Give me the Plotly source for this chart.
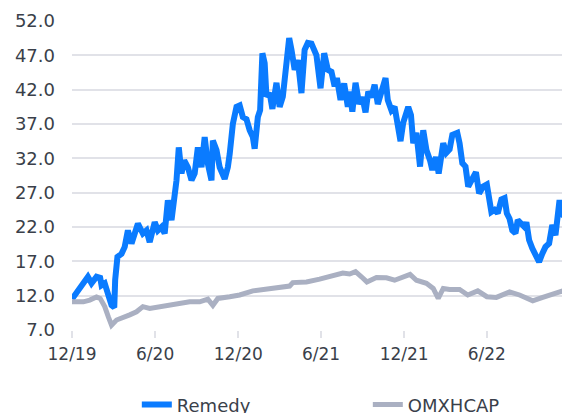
import plotly.graph_objects as go

remedy_dates = [
    "2019-12-01", "2019-12-15", "2019-12-26", "2020-01-05", "2020-01-13", "2020-01-24",
    "2020-02-01", "2020-02-04", "2020-02-11", "2020-02-19", "2020-02-26", "2020-03-03",
    "2020-03-05", "2020-03-10", "2020-03-19", "2020-03-26", "2020-04-02", "2020-04-10",
    "2020-04-17", "2020-04-24", "2020-05-05", "2020-05-13", "2020-05-20", "2020-05-31",
    "2020-06-07", "2020-06-15", "2020-06-22", "2020-06-29", "2020-07-07", "2020-07-14",
    "2020-07-18", "2020-07-23", "2020-07-29", "2020-08-04", "2020-08-12", "2020-08-20",
    "2020-08-27", "2020-09-03", "2020-09-11", "2020-09-18", "2020-09-25", "2020-10-03",
    "2020-10-06", "2020-10-14", "2020-10-21", "2020-11-01", "2020-11-08", "2020-11-12",
    "2020-11-19", "2020-11-27", "2020-12-04", "2020-12-11", "2020-12-19", "2020-12-26",
    "2021-01-02", "2021-01-06", "2021-01-13", "2021-01-18", "2021-01-23", "2021-01-28",
    "2021-02-01", "2021-02-08", "2021-02-14", "2021-02-23", "2021-03-02", "2021-03-09",
    "2021-03-17", "2021-03-23", "2021-03-28", "2021-04-04", "2021-04-11", "2021-04-19",
    "2021-04-26", "2021-05-03", "2021-05-11", "2021-05-22", "2021-05-31", "2021-06-08",
    "2021-06-16", "2021-06-24", "2021-07-01", "2021-07-06", "2021-07-14", "2021-07-22",
    "2021-07-30", "2021-08-03", "2021-08-09", "2021-08-16", "2021-08-24", "2021-08-31",
    "2021-09-07", "2021-09-13", "2021-09-20", "2021-09-27", "2021-10-04", "2021-10-12",
    "2021-10-21", "2021-10-26", "2021-11-03", "2021-11-10", "2021-11-15", "2021-11-23",
    "2021-11-29", "2021-12-10", "2021-12-16", "2021-12-21", "2021-12-28", "2022-01-05",
    "2022-01-12", "2022-01-19", "2022-01-27", "2022-02-01", "2022-02-09", "2022-02-15",
    "2022-02-25", "2022-03-04", "2022-03-11", "2022-03-17", "2022-03-28", "2022-04-02",
    "2022-04-08", "2022-04-15", "2022-04-21", "2022-04-28", "2022-05-08", "2022-05-15",
    "2022-05-24", "2022-06-01", "2022-06-08", "2022-06-11", "2022-06-18", "2022-06-25",
    "2022-07-03", "2022-07-10", "2022-07-15", "2022-07-21", "2022-07-27", "2022-08-03",
    "2022-08-08", "2022-08-16", "2022-08-23", "2022-08-27", "2022-09-02", "2022-09-09",
    "2022-09-16", "2022-09-24", "2022-10-01", "2022-10-08", "2022-10-16", "2022-10-23",
    "2022-10-30", "2022-11-04", "2022-11-08", "2022-11-14", "2022-11-21", "2022-11-26",
    "2022-12-01",
]
remedy_values = [
    11.5, 12.8, 13.8, 14.75, 13.8, 14.75,
    14.6, 13.5, 13.8, 12.3, 10.6, 10.3,
    14.3, 17.65, 18.1, 19.1, 21.5, 19.6,
    21.05, 22.5, 21.05, 21.5, 19.8, 22.7,
    21.5, 22.0, 21.05, 25.9, 23.0, 26.4,
    28.8, 33.6, 29.8, 31.7, 30.7, 28.8,
    29.8, 33.6, 30.7, 35.1, 31.2, 28.8,
    34.6, 33.2, 30.7, 29.0, 30.7, 32.6,
    37.0, 39.5, 39.7, 38.0, 37.7, 36.1,
    35.1, 33.4, 38.0, 39.0, 47.3, 45.85,
    41.0, 41.5, 39.2, 43.0, 39.5, 41.0,
    45.85, 49.5, 47.8, 44.9, 46.3, 41.5,
    47.8, 48.8, 48.7, 47.0, 42.2, 47.3,
    44.9, 44.6, 42.5, 43.7, 40.5, 42.9,
    39.5, 41.7, 38.8, 43.0, 39.9, 40.9,
    38.7, 41.7, 40.9, 42.7, 39.9, 42.1,
    43.7, 40.5, 39.0, 39.5, 37.4, 34.5,
    37.2, 39.5, 38.3, 34.2, 35.7, 30.8,
    36.1, 33.2, 31.7, 30.3, 32.2, 29.8,
    34.2, 32.8, 33.3, 35.4, 35.7, 34.2,
    31.3, 30.8, 27.9, 28.8, 30.0, 26.9,
    27.9, 28.2, 26.0, 24.2, 24.5, 24.0,
    26.0, 26.2, 24.0, 23.2, 21.5, 21.1,
    23.0, 22.5, 22.0, 22.7, 20.1, 18.9,
    17.9, 16.9, 18.1, 19.1, 19.6, 22.3,
    20.8, 24.4, 25.9, 23.8, 23.5, 22.3,
    22.0,
]

omx_dates = [
    "2019-12-01", "2019-12-26", "2020-01-09", "2020-01-24", "2020-02-01", "2020-02-11",
    "2020-02-19", "2020-02-26", "2020-03-08", "2020-03-22", "2020-04-06", "2020-04-21",
    "2020-05-05", "2020-05-20", "2020-06-11", "2020-07-03", "2020-07-25", "2020-08-16",
    "2020-09-07", "2020-09-25", "2020-10-06", "2020-10-17", "2020-11-12", "2020-12-04",
    "2021-01-02", "2021-02-01", "2021-02-23", "2021-03-24", "2021-03-31", "2021-04-30",
    "2021-05-29", "2021-06-27", "2021-07-19", "2021-08-03", "2021-08-16", "2021-08-29",
    "2021-09-10", "2021-10-01", "2021-10-23", "2021-11-10", "2021-11-29", "2021-12-14",
    "2021-12-28", "2022-01-19", "2022-02-03", "2022-02-14", "2022-02-25", "2022-03-11",
    "2022-04-02", "2022-04-20", "2022-05-12", "2022-06-01", "2022-06-22", "2022-07-21",
    "2022-08-12", "2022-09-10", "2022-10-02", "2022-10-24", "2022-11-15", "2022-12-01",
]
omx_values = [
    11.1, 11.1, 11.35, 11.8, 11.6, 10.4,
    8.9, 7.7, 8.45, 8.9, 9.2, 9.65,
    10.4, 10.15, 10.4, 10.6, 10.9, 11.1,
    11.1, 11.5, 10.6, 11.6, 11.85, 12.1,
    12.7, 12.9, 13.05, 13.4, 13.9, 14.0,
    14.4, 15.0, 15.3, 15.15, 15.5, 14.75,
    14.0, 14.65, 14.6, 14.25, 14.65, 15.1,
    14.25, 13.8, 13.05, 11.6, 13.05, 12.9,
    12.9, 12.1, 12.7, 11.85, 11.75, 12.55,
    12.1, 11.25, 11.75, 12.3, 12.7, 12.3,
]

y_ticks = [7.0, 12.0, 17.0, 22.0, 27.0, 32.0, 37.0, 42.0, 47.0, 52.0]

FONT = "DejaVu Sans"
TEXT = "#3a3f4a"
GRID = "#e1e2e8"

fig = go.Figure()
fig.add_trace(go.Scatter(
    x=remedy_dates, y=remedy_values, name="Remedy", mode="lines",
    line=dict(color="#0a7bff", width=6),
))
fig.add_trace(go.Scatter(
    x=omx_dates, y=omx_values, name="OMXHCAP", mode="lines",
    line=dict(color="#aab0c2", width=5),
))

fig.update_layout(
    width=570, height=413,
    margin=dict(l=64, r=8, t=13, b=91, autoexpand=False),
    paper_bgcolor="white", plot_bgcolor="white",
    font=dict(family=FONT, size=18, color=TEXT),
    showlegend=True,
    legend=dict(
        orientation="h", xref="container", yref="container",
        x=0.226, xanchor="left", y=0.039, yanchor="middle",
        font=dict(family=FONT, size=18, color=TEXT),
        entrywidth=186, entrywidthmode="pixels",
        bgcolor="rgba(0,0,0,0)",
    ),
    xaxis=dict(
        type="date", automargin=False,
        range=["2019-12-01", "2022-12-01"],
        tick0="2019-12-01", dtick="M6", tickformat="%-m/%y",
        showgrid=False, zeroline=False,
        showline=False,
        ticks="outside", ticklen=7, tickcolor=GRID, tickwidth=1.5,
        ticklabelstandoff=2,
        tickfont=dict(family=FONT, size=17, color=TEXT),
    ),
    yaxis=dict(
        automargin=False,
        range=[7, 52], tickvals=y_ticks, tickformat=".1f",
        showgrid=True, gridcolor=GRID, gridwidth=1.5,
        zeroline=False, showline=False,
        ticks="", ticklabelstandoff=16,
        tickfont=dict(family=FONT, size=18, color=TEXT),
    ),
)

fig.write_html("out.html")
